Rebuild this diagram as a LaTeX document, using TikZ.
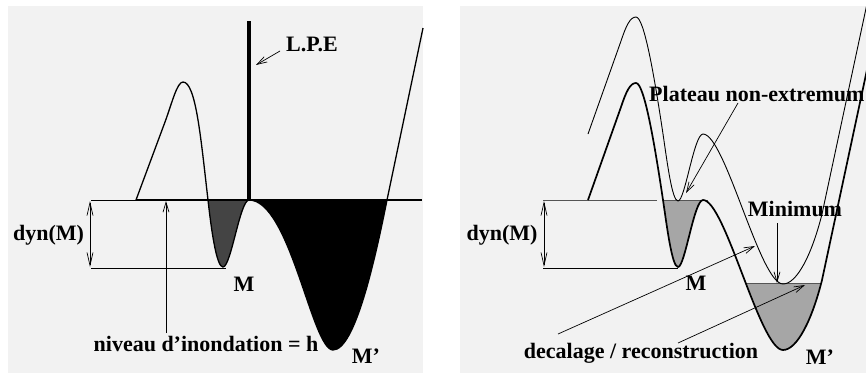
\documentclass[tikz,border=0pt]{standalone}
\usepackage{fontspec}
\setmainfont{Liberation Serif}
\usetikzlibrary{arrows.meta}
\definecolor{panelbg}{HTML}{F2F2F2}
\definecolor{basinA}{HTML}{444444}
\definecolor{basinB}{HTML}{A6A6A6}
\definecolor{rimgray}{HTML}{555555}
\def\leftcurve{(136,200) -- (165,122) .. controls (172,103) and (177,82) .. (183,82) .. controls (196,82) and (201,140) .. (208,200) .. controls (212,236) and (217,267) .. (223,267) .. controls (231,267) and (240,200) .. (249,200) .. controls (290,200) and (312,350) .. (333,350) .. controls (355,350) and (375,260) .. (387,200) -- (423,28)}
\def\rightcurve{(588,200) -- (621,107) .. controls (626,92) and (630,83) .. (636,83) .. controls (644,83) and (654,140) .. (663,200) .. controls (667,227) and (672,267) .. (678,267) .. controls (685,267) and (694,200) .. (703,200) .. controls (725,200) and (760,350) .. (783,350) .. controls (797,350) and (812,320) .. (822,280) -- (868,65)}
\begin{document}
\begin{tikzpicture}[x=1pt,y=-1pt,
  lab/.style={font=\fontsize{22}{26}\selectfont\bfseries, inner sep=0pt, anchor=base},
  thinln/.style={line width=0.8pt},
  arr/.style={line width=0.7pt, -{Straight Barb[length=10pt,width=6pt]}},
  dynarr/.style={line width=0.7pt, {Straight Barb[length=13pt,width=6pt]}-{Straight Barb[length=13pt,width=6pt]}}]
\useasboundingbox (0,0) rectangle (866,373);
\fill[panelbg] (8,6) rectangle (423,373);
\fill[panelbg] (460,6) rectangle (866,373);

% ---------- left panel ----------
\begin{scope}
  \clip (200,200) rectangle (249,373);
  \fill[basinA] \leftcurve -- (423,0) -- (136,0) -- cycle;
\end{scope}
\begin{scope}
  \clip (249,200) rectangle (400,373);
  \fill[black] \leftcurve -- (423,0) -- (136,0) -- cycle;
\end{scope}
\draw[thinln] (91,200) -- (136,200);
\draw[line width=1.1pt] (136,200) -- (422,200);
\draw[thinln] (91,268) -- (226,268);
\draw[line width=1.3pt] \leftcurve;
\draw[line width=3.6pt] (249,21) -- (249,200);

\node[lab] (lpe) at (312,51.7) {L.P.E};
\node[lab] (dynL) at (48.5,240) {dyn(M)};
\node[lab] (mL) at (244,291) {M};
\node[lab] (mpL) at (366,363) {M’};
\node[lab] (niv) at (206,351) {niveau d’inondation = h};

\coordinate (lpeFrom) at (280,51);
\coordinate (lpeTip) at (256,65);
\coordinate (nivFrom) at (166,333);
\coordinate (nivTip) at (166,201);
\coordinate (dynTopL) at (90,201);
\coordinate (dynBotL) at (90,267);
\draw[arr] (lpeFrom) -- (lpeTip);
\draw[arr] (nivFrom) -- (nivTip);
\draw[dynarr] (dynTopL) -- (dynBotL);

% ---------- right panel ----------
\begin{scope}
  \clip (460,6) rectangle (866,373);
  \begin{scope}
    \clip (655,200) rectangle (703,373);
    \fill[basinB] \rightcurve -- (868,0) -- (588,0) -- cycle;
  \end{scope}
  \begin{scope}
    \clip (710,283.3) rectangle (866,373);
    \fill[basinB] \rightcurve -- (868,0) -- (588,0) -- cycle;
  \end{scope}
  \draw[thinln, rimgray] (543,200) -- (657,200);
  \draw[thinln, rimgray] (663,200) -- (708,200);
  \draw[thinln, rimgray] (746,283.3) -- (821,283.3);
  \draw[thinln] (543,268) -- (678,268);
  \draw[line width=1.7pt] \rightcurve;
  \begin{scope}[yshift=66pt]
    \draw[line width=0.9pt] \rightcurve;
  \end{scope}
  \node[lab, anchor=base west] (plat) at (649,101.7) {Plateau non-extremum};
\end{scope}

\node[lab] (dynR) at (502,240) {dyn(M)};
\node[lab] (minim) at (795,216) {Minimum};
\node[lab] (mR) at (696,290) {M};
\node[lab] (mpR) at (820,364) {M’};
\node[lab] (dec) at (641,358) {decalage / reconstruction};

\coordinate (platFrom) at (738,103);
\coordinate (platTip) at (686,193);
\coordinate (minFrom) at (777,223);
\coordinate (minTip) at (777,283);
\coordinate (decFromA) at (558,334);
\coordinate (decTipA) at (755,246);
\coordinate (decFromB) at (678,343);
\coordinate (decTipB) at (805,285);
\coordinate (dynTopR) at (544,201);
\coordinate (dynBotR) at (544,267);
\draw[arr] (platFrom) -- (platTip);
\draw[arr] (minFrom) -- (minTip);
\draw[arr] (decFromA) -- (decTipA);
\draw[arr] (decFromB) -- (decTipB);
\draw[dynarr] (dynTopR) -- (dynBotR);
\end{tikzpicture}
\end{document}
